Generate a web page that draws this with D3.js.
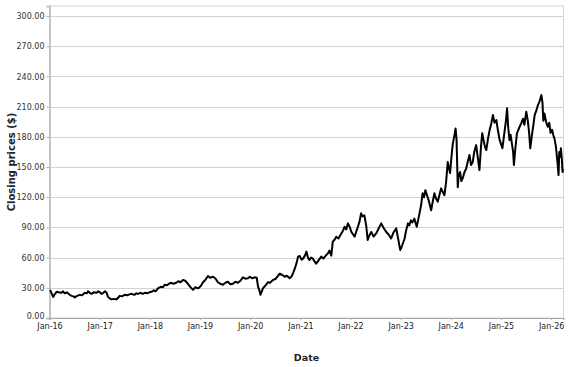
<!DOCTYPE html>
<html>
<head>
<meta charset="utf-8">
<script src="https://cdn.jsdelivr.net/npm/d3@7/dist/d3.min.js"></script>
<style>
  html, body { margin: 0; padding: 0; background: #fff; }
  svg { display: block; font-family: "DejaVu Sans", sans-serif; }
</style>
</head>
<body>
<svg id="chart" width="577" height="367"></svg>
<script>
// closing prices, one list per year
const dates2016 = ['2016-01-05', '2016-01-15', '2016-01-28', '2016-02-08', '2016-02-22', '2016-03-07', '2016-03-28', '2016-04-08', '2016-04-21', '2016-05-06', '2016-05-27', '2016-06-10', '2016-06-24', '2016-07-03', '2016-07-20', '2016-08-09', '2016-08-25', '2016-09-15', '2016-09-28', '2016-10-08', '2016-10-20', '2016-11-03', '2016-11-18', '2016-12-09', '2016-12-22'];
const closes2016 = [27.8, 25, 21, 23.5, 26, 25.5, 25, 26.5, 24.5, 25.5, 23, 22, 21.5, 20.5, 22, 23, 22.5, 25, 24.5, 26.5, 25, 24, 25.5, 25, 26.5];

const dates2017 = ['2017-01-15', '2017-01-27', '2017-02-08', '2017-02-20', '2017-03-02', '2017-03-14', '2017-03-27', '2017-04-12', '2017-05-02', '2017-05-15', '2017-05-26', '2017-06-12', '2017-07-01', '2017-07-20', '2017-08-05', '2017-08-20', '2017-09-10', '2017-09-25', '2017-10-07', '2017-10-25', '2017-11-10', '2017-11-25', '2017-12-12', '2017-12-28'];
const closes2017 = [24, 25, 26.5, 25, 21, 19.5, 18.5, 19, 18.5, 20, 22, 21.5, 23, 22.5, 23.5, 24, 23, 24.5, 24, 25, 24, 25, 24.5, 25.5];

const dates2018 = ['2018-01-13', '2018-01-30', '2018-02-12', '2018-03-01', '2018-03-20', '2018-04-05', '2018-04-19', '2018-05-05', '2018-05-20', '2018-06-06', '2018-06-20', '2018-07-12', '2018-07-28', '2018-08-12', '2018-08-30', '2018-09-15', '2018-10-05', '2018-10-22', '2018-11-11', '2018-11-28', '2018-12-17', '2018-12-28'];
const closes2018 = [26, 27.5, 26.5, 29.5, 31, 30.5, 33, 32.5, 34, 35, 34, 35, 36.5, 35.5, 37.7, 37, 34, 31, 28, 30.5, 29.5, 30.5];

const dates2019 = ['2019-01-10', '2019-01-23', '2019-02-10', '2019-02-28', '2019-03-15', '2019-04-05', '2019-04-22', '2019-05-11', '2019-05-28', '2019-06-17', '2019-07-05', '2019-07-23', '2019-08-10', '2019-08-29', '2019-09-15', '2019-10-04', '2019-10-22', '2019-11-10', '2019-11-28', '2019-12-16', '2019-12-30'];
const closes2019 = [32.5, 35.5, 38, 41.7, 40, 41, 39.5, 35.5, 34, 33, 35, 36, 33.5, 34, 36, 35, 37, 40.4, 39, 39.5, 41];

const dates2020 = ['2020-01-15', '2020-02-04', '2020-02-18', '2020-02-28', '2020-03-10', '2020-03-16', '2020-03-25', '2020-04-03', '2020-04-20', '2020-05-09', '2020-05-25', '2020-06-15', '2020-07-05', '2020-07-20', '2020-08-03', '2020-08-20', '2020-09-09', '2020-09-25', '2020-10-15', '2020-10-30', '2020-11-10', '2020-11-21', '2020-12-05', '2020-12-15', '2020-12-27'];
const closes2020 = [39.5, 40.4, 40, 31, 27, 23, 26, 29.5, 32, 35.5, 35, 37.7, 39, 41.5, 44, 43, 41, 42, 39.5, 41.5, 45, 49, 55, 61, 61.6];

const dates2021 = ['2021-01-10', '2021-01-20', '2021-02-03', '2021-02-14', '2021-02-25', '2021-03-08', '2021-03-20', '2021-04-02', '2021-04-15', '2021-04-26', '2021-05-12', '2021-06-02', '2021-06-18', '2021-07-08', '2021-07-20', '2021-08-01', '2021-08-14', '2021-08-25', '2021-09-08', '2021-09-19', '2021-10-05', '2021-10-26', '2021-11-08', '2021-11-19', '2021-12-01', '2021-12-13', '2021-12-28'];
const closes2021 = [58, 59, 62, 66, 60, 57.6, 60, 59, 56, 54, 57, 61, 59, 62.6, 64, 67, 62, 75.8, 78, 80.8, 79, 84, 87, 90.7, 88, 94, 90];

const dates2022 = ['2022-01-07', '2022-01-20', '2022-01-31', '2022-02-12', '2022-02-24', '2022-03-08', '2022-03-19', '2022-03-30', '2022-04-12', '2022-04-25', '2022-05-06', '2022-05-18', '2022-06-01', '2022-06-18', '2022-07-07', '2022-07-25', '2022-08-13', '2022-08-28', '2022-09-18', '2022-10-05', '2022-10-24', '2022-11-10', '2022-11-30', '2022-12-15', '2022-12-29'];
const closes2022 = [85.5, 83, 80.8, 86, 90.7, 96, 104, 101, 102, 92, 77.5, 82, 85.5, 81, 84, 89, 94, 90, 85.5, 83, 79, 85, 89, 78, 67.5];

const dates2023 = ['2023-01-12', '2023-01-30', '2023-02-10', '2023-02-23', '2023-03-05', '2023-03-17', '2023-03-28', '2023-04-11', '2023-04-28', '2023-05-08', '2023-05-17', '2023-05-30', '2023-06-10', '2023-06-20', '2023-06-30', '2023-07-12', '2023-07-24', '2023-08-02', '2023-08-11', '2023-08-22', '2023-09-04', '2023-09-15', '2023-09-28', '2023-10-10', '2023-10-23', '2023-11-05', '2023-11-16', '2023-11-28', '2023-12-10', '2023-12-20', '2023-12-27'];
const closes2023 = [72, 79, 87, 94, 92, 97, 95, 98.7, 90.7, 97, 103, 112, 124, 120, 127, 122, 117, 112, 107, 115, 124, 119, 115.6, 122, 128.8, 125, 122, 135, 155, 148, 144];

const dates2024 = ['2024-01-06', '2024-01-16', '2024-01-26', '2024-02-05', '2024-02-12', '2024-02-21', '2024-02-28', '2024-03-09', '2024-03-18', '2024-03-28', '2024-04-10', '2024-04-22', '2024-05-05', '2024-05-16', '2024-05-28', '2024-06-09', '2024-06-20', '2024-07-04', '2024-07-15', '2024-07-28', '2024-08-08', '2024-08-17', '2024-08-28', '2024-09-06', '2024-09-16', '2024-09-28', '2024-10-10', '2024-10-22', '2024-11-03', '2024-11-15', '2024-11-28', '2024-12-10', '2024-12-22'];
const closes2024 = [160, 173.5, 180, 188.4, 178, 130, 142, 145, 136, 138.8, 145, 148.3, 156, 162, 152, 155, 165, 171.8, 160, 147, 170, 183.5, 176, 170, 166.9, 178, 186.7, 193, 201.6, 194, 196.6, 186, 176.8];

const dates2025 = ['2025-01-03', '2025-01-11', '2025-01-20', '2025-01-28', '2025-02-06', '2025-02-14', '2025-02-22', '2025-03-04', '2025-03-12', '2025-03-21', '2025-03-30', '2025-04-05', '2025-04-15', '2025-04-27', '2025-05-10', '2025-05-28', '2025-06-10', '2025-06-20', '2025-07-04', '2025-07-15', '2025-07-24', '2025-08-02', '2025-08-14', '2025-08-25', '2025-09-03', '2025-09-15', '2025-09-27', '2025-10-08', '2025-10-22', '2025-10-30', '2025-11-05', '2025-11-13', '2025-11-25', '2025-12-07', '2025-12-18', '2025-12-28'];
const closes2025 = [172, 168.6, 178, 186.7, 196, 208.3, 190, 176.8, 182, 173.5, 165, 152, 168, 183.5, 188, 193.4, 198, 192, 205, 196, 185, 168.6, 182, 192, 201.6, 206, 211.6, 215, 221.5, 214, 196, 203.3, 195, 190, 194, 184];

const dates2026 = ['2026-01-08', '2026-01-18', '2026-01-25', '2026-02-05', '2026-02-18', '2026-02-24', '2026-03-01', '2026-03-08', '2026-03-13', '2026-03-20', '2026-03-25', '2026-03-28'];
const closes2026 = [187, 181, 178.5, 170, 152, 142, 165, 160, 168.6, 158, 145, 148];

const yTicks = [0, 30, 60, 90, 120, 150, 180, 210, 240, 270, 300];
const xTickYears = [2016, 2017, 2018, 2019, 2020, 2021, 2022, 2023, 2024, 2025, 2026];

const parse = d3.timeParse('%Y-%m-%d');
const allDates = [].concat(dates2016, dates2017, dates2018, dates2019, dates2020, dates2021,
  dates2022, dates2023, dates2024, dates2025, dates2026);
const allCloses = [].concat(closes2016, closes2017, closes2018, closes2019, closes2020, closes2021,
  closes2022, closes2023, closes2024, closes2025, closes2026);
const data = allDates.map((d, i) => ({ date: parse(d), value: allCloses[i] }));

const svg = d3.select('#chart');
const plotLeft = 49.5, plotRight = 563.5, plotTop = 6, plotBottom = 318;

const x = d3.scaleTime()
  .domain([new Date(2016, 0, 1), new Date(2026, 3, 1)])
  .range([plotLeft, plotRight]);
const y = d3.scaleLinear()
  .domain([0, 310])
  .range([plotBottom, plotTop]);

// plot frame
svg.append('rect')
  .attr('x', plotLeft).attr('y', plotTop)
  .attr('width', plotRight - plotLeft).attr('height', plotBottom - plotTop)
  .attr('fill', '#fff')
  .attr('stroke', '#d4d4d4')
  .attr('stroke-width', 1);

// horizontal grid
svg.append('g')
  .selectAll('line')
  .data(yTicks.filter((t) => t > 0))
  .join('line')
  .attr('x1', plotLeft).attr('x2', plotRight)
  .attr('y1', (d) => Math.round(y(d)) + 0.5)
  .attr('y2', (d) => Math.round(y(d)) + 0.5)
  .attr('stroke', '#d2d2d2')
  .attr('stroke-width', 1.2);

// y axis
const yAxis = svg.append('g')
  .attr('transform', `translate(${plotLeft},0)`)
  .call(d3.axisLeft(y).tickValues(yTicks).tickFormat(d3.format('.2f')).tickSize(3).tickPadding(2));
yAxis.select('.domain').attr('stroke', '#c4c4c4').attr('stroke-width', 2);
yAxis.selectAll('.tick line').attr('stroke', '#b0b0b0');
yAxis.selectAll('text').attr('fill', '#333').attr('font-size', 8).attr('font-family', 'DejaVu Sans');
// lift the bottom label a touch so it clears the first date label
yAxis.selectAll('.tick text').filter((d) => d === 0).attr('dy', '0.1em');

// x axis
const xAxis = svg.append('g')
  .attr('transform', `translate(0,${plotBottom})`)
  .call(d3.axisBottom(x)
    .tickValues(xTickYears.map((yr) => new Date(yr, 0, 1)))
    .tickFormat(d3.timeFormat('Jan-%y'))
    .tickSize(2).tickPadding(3));
xAxis.select('.domain').attr('stroke', '#a8a8a8').attr('stroke-width', 1.2);
xAxis.selectAll('.tick line').attr('stroke', '#b0b0b0');
xAxis.selectAll('text').attr('fill', '#222').attr('font-size', 8).attr('font-family', 'DejaVu Sans');

// price line
const line = d3.line()
  .x((d) => x(d.date))
  .y((d) => y(d.value));

svg.append('path')
  .datum(data)
  .attr('d', line)
  .attr('fill', 'none')
  .attr('stroke', '#000')
  .attr('stroke-width', 2)
  .attr('stroke-linejoin', 'round');

// axis titles
svg.append('text')
  .attr('x', (plotLeft + plotRight) / 2)
  .attr('y', 361)
  .attr('text-anchor', 'middle')
  .attr('font-size', 9.5)
  .attr('font-weight', 'bold')
  .attr('fill', '#222')
  .text('Date');

svg.append('text')
  .attr('transform', `translate(15,${(plotTop + plotBottom) / 2}) rotate(-90)`)
  .attr('text-anchor', 'middle')
  .attr('font-size', 10)
  .attr('font-weight', 'bold')
  .attr('fill', '#222')
  .text('Closing prices ($)');
</script>
</body>
</html>
